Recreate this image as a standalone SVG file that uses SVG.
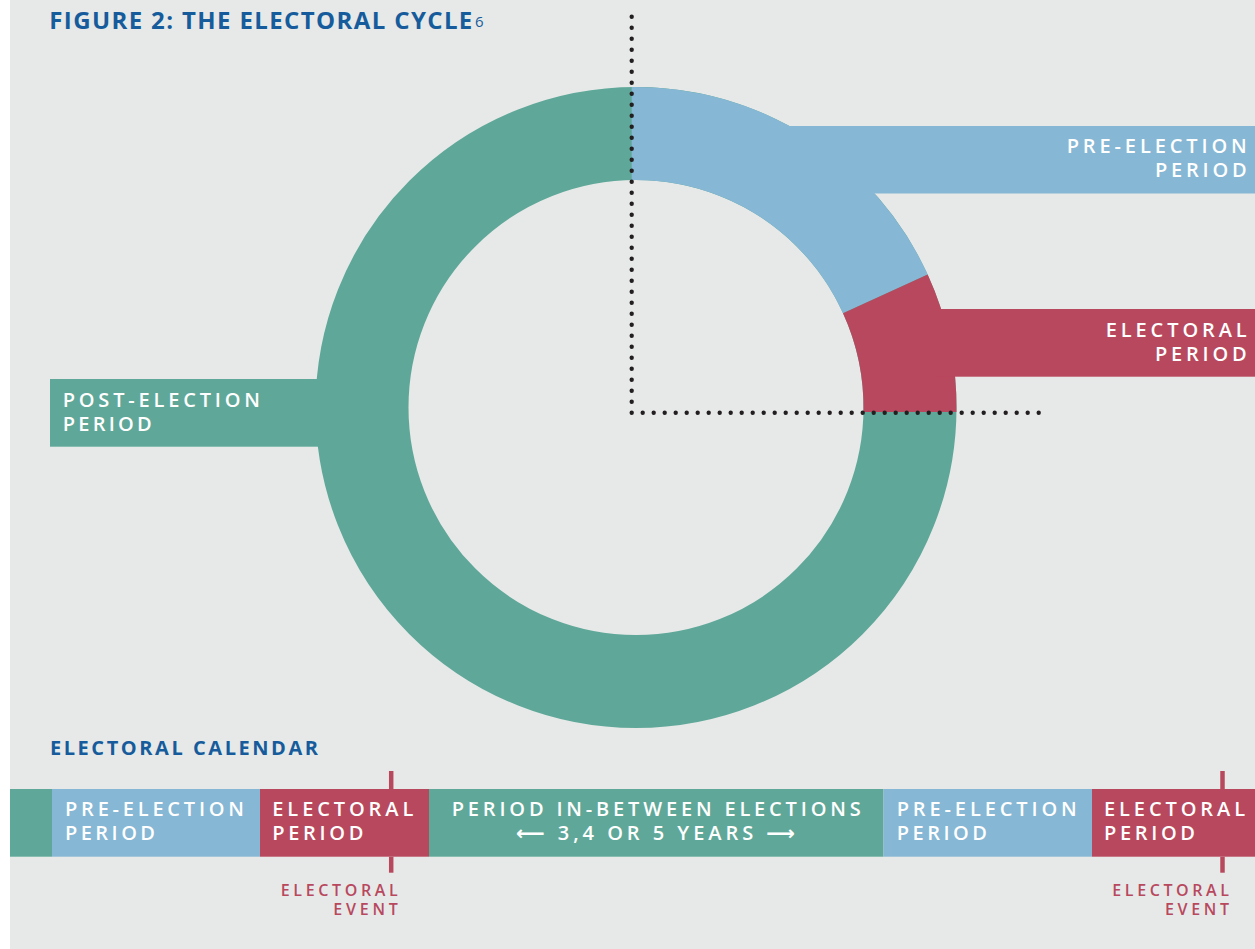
<svg xmlns="http://www.w3.org/2000/svg" width="1255" height="949" viewBox="0 0 1255 949">
<style>
.g{fill:#5fa899}.b{fill:#86b7d4}.r{fill:#b8485e}
text{font-family:"Open Sans","DejaVu Sans",sans-serif}
.lbl{fill:#ffffff;font-size:20px;font-weight:600}
.ev{fill:#b8485e;font-size:16px;font-weight:600}
.ttl{fill:#165c9c;font-weight:700}
.dots{fill:none;stroke:#231f20;stroke-width:4.4;stroke-linecap:round;stroke-dasharray:0 11}
.tick{stroke:#b8485e;stroke-width:4.5}
</style>
<rect x="0" y="0" width="1255" height="949" fill="#ffffff"/>
<rect x="10" y="0" width="1245" height="949" fill="#e7e9e8"/>

<g id="title">
<text class="ttl" x="49.3" y="29.3" font-size="24" textLength="423" lengthAdjust="spacing">FIGURE 2: THE ELECTORAL CYCLE</text>
<text x="475" y="26.5" font-size="15" font-weight="400" fill="#165c9c">6</text>
</g>

<g id="post-election">
<circle cx="636" cy="407.5" r="274" fill="none" stroke="#5fa899" stroke-width="93"/>
<rect class="g" x="50" y="379" width="280" height="67.7"/>
<text class="lbl"><tspan x="62.7" y="407.3" textLength="197.3" lengthAdjust="spacing">POST-ELECTION</tspan><tspan x="62.7" y="430.7" textLength="89" lengthAdjust="spacing">PERIOD</tspan></text>
</g>

<g id="pre-election">
<path class="b" d="M631.7,87 A320.5,320.5 0 0 1 927.7,274.6 L843,313.2 A227.5,227.5 0 0 0 631.7,180 Z"/>
<rect class="b" x="785" y="126" width="470" height="67.5"/>
<text class="lbl" text-anchor="end"><tspan x="1246.7" y="153.3" textLength="180" lengthAdjust="spacing">PRE-ELECTION</tspan><tspan x="1246.7" y="177.3" textLength="91.7" lengthAdjust="spacing">PERIOD</tspan></text>
</g>

<g id="electoral">
<path class="r" d="M927.7,274.6 A320.5,320.5 0 0 1 956.5,412 L863.5,412 A227.5,227.5 0 0 0 843,313.2 Z"/>
<rect class="r" x="935" y="309" width="320" height="67.7"/>
<text class="lbl" text-anchor="end"><tspan x="1246.7" y="337.3" textLength="141" lengthAdjust="spacing">ELECTORAL</tspan><tspan x="1246.7" y="361" textLength="91.7" lengthAdjust="spacing">PERIOD</tspan></text>
</g>

<g id="connectors">
<path class="dots" d="M631.7,16.7 V412.7 H1043"/>
</g>

<g id="calendar-heading">
<text class="ttl" x="50" y="755" font-size="20" textLength="268" lengthAdjust="spacing">ELECTORAL CALENDAR</text>
</g>

<g id="calendar">
<g id="cal-post">
<rect class="g" x="10" y="789" width="42" height="67.7"/>
</g>
<g id="cal-pre-1">
<rect class="b" x="52" y="789" width="208" height="67.7"/>
<text class="lbl"><tspan x="65" y="816" textLength="179" lengthAdjust="spacing">PRE-ELECTION</tspan><tspan x="65" y="840" textLength="90" lengthAdjust="spacing">PERIOD</tspan></text>
</g>
<g id="cal-electoral-1">
<rect class="r" x="260" y="789" width="169" height="67.7"/>
<text class="lbl"><tspan x="272.3" y="816" textLength="141" lengthAdjust="spacing">ELECTORAL</tspan><tspan x="272.3" y="840" textLength="91" lengthAdjust="spacing">PERIOD</tspan></text>
</g>
<g id="cal-between">
<rect class="g" x="429" y="789" width="454.5" height="67.7"/>
<text class="lbl"><tspan x="451.7" y="816" textLength="409" lengthAdjust="spacing">PERIOD IN-BETWEEN ELECTIONS</tspan><tspan x="516" y="840" textLength="279" lengthAdjust="spacing">⟵ 3,4 OR 5 YEARS ⟶</tspan></text>
</g>
<g id="cal-pre-2">
<rect class="b" x="883.5" y="789" width="208.5" height="67.7"/>
<text class="lbl"><tspan x="896.7" y="816" textLength="180" lengthAdjust="spacing">PRE-ELECTION</tspan><tspan x="896.7" y="840" textLength="90.3" lengthAdjust="spacing">PERIOD</tspan></text>
</g>
<g id="cal-electoral-2">
<rect class="r" x="1092" y="789" width="163" height="67.7"/>
<text class="lbl"><tspan x="1104" y="816" textLength="141" lengthAdjust="spacing">ELECTORAL</tspan><tspan x="1104" y="840" textLength="91" lengthAdjust="spacing">PERIOD</tspan></text>
</g>
<g id="event-1">
<line class="tick" x1="391.2" y1="771" x2="391.2" y2="789"/>
<line class="tick" x1="391.2" y1="856.7" x2="391.2" y2="872.7"/>
<text class="ev" text-anchor="end"><tspan x="397.7" y="896" textLength="117" lengthAdjust="spacing">ELECTORAL</tspan><tspan x="397.7" y="915" textLength="64.4" lengthAdjust="spacing">EVENT</tspan></text>
</g>
<g id="event-2">
<line class="tick" x1="1222.5" y1="771" x2="1222.5" y2="789"/>
<line class="tick" x1="1222.5" y1="856.7" x2="1222.5" y2="872.7"/>
<text class="ev" text-anchor="end"><tspan x="1229" y="896" textLength="116.7" lengthAdjust="spacing">ELECTORAL</tspan><tspan x="1229" y="915" textLength="64" lengthAdjust="spacing">EVENT</tspan></text>
</g>
</g>
</svg>
